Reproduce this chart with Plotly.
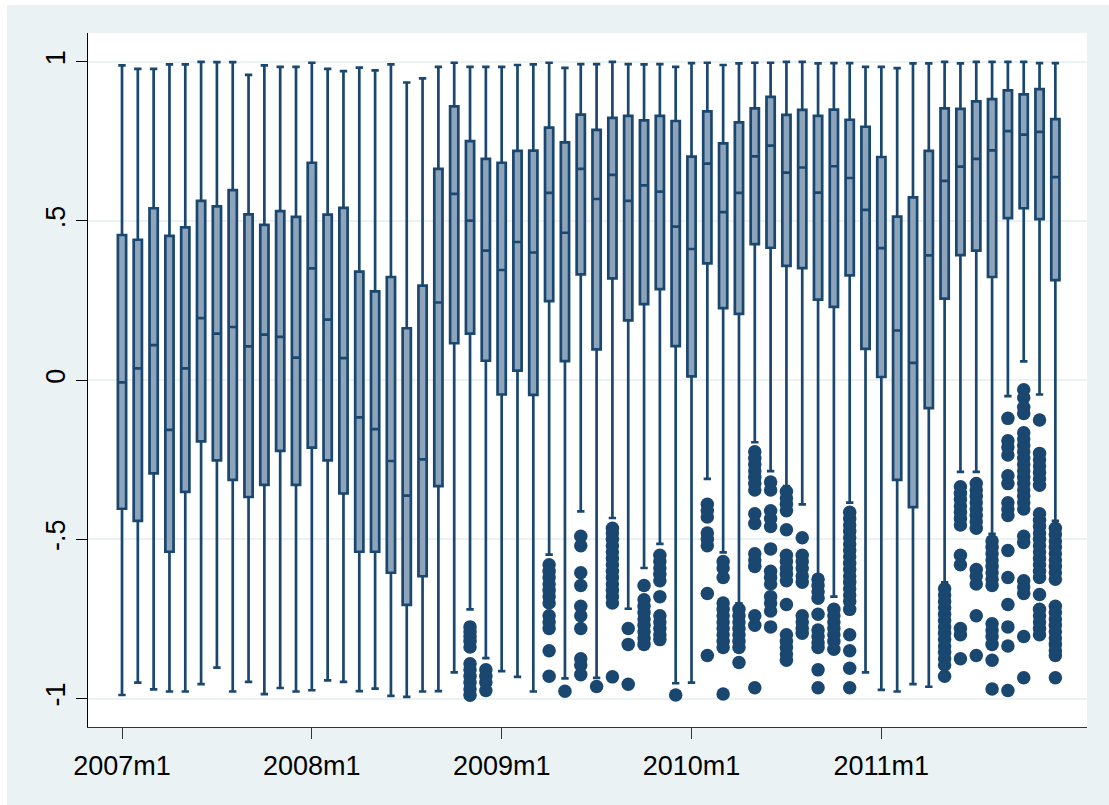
import plotly.graph_objects as go

# ---- data (month index 0 = 2007m1 ... 59 = 2011m12) ----
tick_months = [0, 12, 24, 36, 48]
tick_labels = ["2007m1", "2008m1", "2009m1", "2010m1", "2011m1"]

upper_whisker = [0.989, 0.978, 0.978, 0.992, 0.992, 1.0, 0.999, 0.999, 0.959, 0.989, 0.984, 0.984,
                 0.997, 0.978, 0.971, 0.982, 0.973, 0.992, 0.935, 0.948, 0.984, 0.997, 0.984, 0.984,
                 0.984, 0.990, 0.992, 0.997, 0.981, 0.993, 0.993, 1.0, 0.993, 0.992, 0.993, 0.984,
                 0.996, 0.997, 0.990, 0.995, 0.997, 0.997, 1.0, 1.0, 0.995, 0.996, 0.996, 0.984,
                 0.984, 0.980, 0.995, 0.995, 1.0, 0.995, 1.0, 1.0, 1.0, 1.0, 0.996, 0.996]
q3 = [0.456, 0.441, 0.540, 0.453, 0.480, 0.563, 0.546, 0.597, 0.521, 0.488, 0.531, 0.513,
      0.683, 0.520, 0.541, 0.341, 0.279, 0.324, 0.163, 0.297, 0.664, 0.860, 0.751, 0.695,
      0.683, 0.720, 0.721, 0.793, 0.747, 0.834, 0.786, 0.824, 0.830, 0.816, 0.830, 0.814,
      0.702, 0.844, 0.744, 0.810, 0.854, 0.890, 0.833, 0.849, 0.830, 0.850, 0.818, 0.796,
      0.701, 0.514, 0.574, 0.720, 0.854, 0.852, 0.876, 0.883, 0.910, 0.898, 0.914, 0.820]
median = [-0.007, 0.037, 0.110, -0.156, 0.037, 0.195, 0.146, 0.167, 0.106, 0.143, 0.136, 0.071,
          0.351, 0.190, 0.069, -0.117, -0.154, -0.254, -0.363, -0.249, 0.244, 0.585, 0.501, 0.407,
          0.346, 0.434, 0.401, 0.588, 0.463, 0.664, 0.569, 0.645, 0.563, 0.612, 0.592, 0.482,
          0.412, 0.680, 0.528, 0.588, 0.703, 0.737, 0.652, 0.668, 0.589, 0.672, 0.635, 0.535,
          0.415, 0.156, 0.054, 0.392, 0.626, 0.671, 0.695, 0.722, 0.782, 0.771, 0.780, 0.638]
q1 = [-0.404, -0.442, -0.293, -0.539, -0.351, -0.192, -0.252, -0.313, -0.367, -0.329, -0.222, -0.329,
      -0.212, -0.252, -0.356, -0.539, -0.539, -0.605, -0.706, -0.616, -0.333, 0.116, 0.146, 0.061,
      -0.045, 0.030, -0.046, 0.248, 0.060, 0.332, 0.097, 0.320, 0.188, 0.239, 0.286, 0.107,
      0.012, 0.367, 0.226, 0.208, 0.427, 0.416, 0.359, 0.352, 0.253, 0.230, 0.329, 0.098,
      0.010, -0.313, -0.399, -0.088, 0.256, 0.393, 0.407, 0.324, 0.509, 0.540, 0.506, 0.314]
lower_whisker = [-0.989, -0.950, -0.971, -0.978, -0.978, -0.955, -0.903, -0.978, -0.948, -0.986, -0.967, -0.978,
                 -0.974, -0.943, -0.948, -0.977, -0.969, -0.992, -0.995, -0.978, -0.977, -0.918, -0.720, -0.873,
                 -0.914, -0.932, -0.978, -0.548, -0.937, -0.412, -0.935, -0.433, -0.718, -0.590, -0.514, -0.952,
                 -0.950, -0.310, -0.541, -0.701, -0.195, -0.286, -0.333, -0.390, -0.619, -0.680, -0.385, -0.918,
                 -0.973, -0.978, -0.955, -0.963, -0.635, -0.288, -0.288, -0.483, -0.050, 0.059, -0.045, -0.442]

# outside values, one list per month that has them
out_2008m11 = [-0.775, -0.79, -0.805, -0.82, -0.838, -0.891, -0.91, -0.93, -0.95, -0.97, -0.99]
out_2008m12 = [-0.91, -0.93, -0.95, -0.975]
out_2009m4 = [-0.58, -0.60, -0.62, -0.64, -0.66, -0.68, -0.70, -0.74, -0.76, -0.78, -0.85, -0.93]
out_2009m5 = [-0.977]
out_2009m6 = [-0.49, -0.52, -0.605, -0.645, -0.71, -0.74, -0.78, -0.875, -0.895, -0.925]
out_2009m7 = [-0.962]
out_2009m8 = [-0.465, -0.48, -0.50, -0.52, -0.54, -0.56, -0.58, -0.60, -0.62, -0.64, -0.66, -0.68, -0.70, -0.932]
out_2009m9 = [-0.78, -0.83, -0.955]
out_2009m10 = [-0.645, -0.69, -0.71, -0.73, -0.75, -0.77, -0.79, -0.81, -0.83]
out_2009m11 = [-0.55, -0.57, -0.59, -0.61, -0.63, -0.68, -0.74, -0.76, -0.78, -0.80, -0.815]
out_2009m12 = [-0.989]
out_2010m2 = [-0.39, -0.41, -0.43, -0.48, -0.50, -0.52, -0.67, -0.865]
out_2010m3 = [-0.57, -0.59, -0.62, -0.70, -0.72, -0.74, -0.76, -0.78, -0.80, -0.82, -0.84, -0.986]
out_2010m4 = [-0.72, -0.74, -0.76, -0.78, -0.80, -0.82, -0.84, -0.887]
out_2010m5 = [-0.225, -0.245, -0.265, -0.285, -0.305, -0.325, -0.345, -0.42, -0.45, -0.545, -0.565,
              -0.585, -0.74, -0.77, -0.966]
out_2010m6 = [-0.32, -0.345, -0.41, -0.435, -0.46, -0.53, -0.60, -0.62, -0.64, -0.68, -0.70, -0.725, -0.775]
out_2010m7 = [-0.35, -0.37, -0.39, -0.41, -0.47, -0.55, -0.57, -0.59, -0.61, -0.63, -0.705, -0.80, -0.82,
              -0.84, -0.86, -0.88]
out_2010m8 = [-0.495, -0.55, -0.57, -0.59, -0.615, -0.635, -0.74, -0.76, -0.78, -0.795]
out_2010m9 = [-0.625, -0.645, -0.665, -0.685, -0.735, -0.785, -0.805, -0.825, -0.84, -0.91, -0.966]
out_2010m10 = [-0.72, -0.74, -0.76, -0.78, -0.80, -0.82, -0.845]
out_2010m11 = [-0.415, -0.435, -0.455, -0.475, -0.495, -0.515, -0.535, -0.555, -0.575, -0.595, -0.615,
               -0.635, -0.655, -0.675, -0.695, -0.72, -0.80, -0.85, -0.905, -0.966]
out_2011m5 = [-0.655, -0.675, -0.695, -0.715, -0.735, -0.755, -0.775, -0.795, -0.815, -0.835, -0.855,
              -0.875, -0.895, -0.93]
out_2011m6 = [-0.335, -0.355, -0.375, -0.395, -0.415, -0.435, -0.455, -0.55, -0.58, -0.78, -0.80, -0.875]
out_2011m7 = [-0.325, -0.345, -0.365, -0.385, -0.405, -0.425, -0.445, -0.465, -0.595, -0.615, -0.64,
              -0.74, -0.865]
out_2011m8 = [-0.505, -0.525, -0.545, -0.565, -0.585, -0.605, -0.625, -0.645, -0.765, -0.785, -0.805,
              -0.83, -0.88, -0.97]
out_2011m9 = [-0.12, -0.19, -0.21, -0.235, -0.30, -0.325, -0.385, -0.405, -0.425, -0.535, -0.62, -0.705,
              -0.775, -0.835, -0.975]
out_2011m10 = [-0.03, -0.055, -0.085, -0.105, -0.165, -0.185, -0.205, -0.225, -0.245, -0.265, -0.285,
               -0.305, -0.325, -0.345, -0.365, -0.385, -0.405, -0.49, -0.51, -0.63, -0.65, -0.67,
               -0.805, -0.935]
out_2011m11 = [-0.125, -0.23, -0.25, -0.27, -0.29, -0.31, -0.33, -0.42, -0.44, -0.46, -0.48, -0.50, -0.52,
               -0.54, -0.56, -0.58, -0.60, -0.62, -0.673, -0.72, -0.74, -0.76, -0.78, -0.80]
out_2011m12 = [-0.465, -0.485, -0.505, -0.525, -0.545, -0.565, -0.585, -0.605, -0.625, -0.71, -0.73,
               -0.75, -0.77, -0.79, -0.81, -0.83, -0.85, -0.865, -0.935]

outlier_months = [22, 23, 27, 28, 29, 30, 31, 32, 33, 34, 35, 37, 38, 39, 40, 41, 42, 43, 44, 45, 46,
                  52, 53, 54, 55, 56, 57, 58, 59]
outlier_lists = [out_2008m11, out_2008m12, out_2009m4, out_2009m5, out_2009m6, out_2009m7, out_2009m8,
                 out_2009m9, out_2009m10, out_2009m11, out_2009m12, out_2010m2, out_2010m3, out_2010m4,
                 out_2010m5, out_2010m6, out_2010m7, out_2010m8, out_2010m9, out_2010m10, out_2010m11,
                 out_2011m5, out_2011m6, out_2011m7, out_2011m8, out_2011m9, out_2011m10, out_2011m11,
                 out_2011m12]

# ---- figure ----
NAVY = "#1a476f"
FILL = "#8ea4ba"
BG = "#eaf2f3"

months = list(range(len(q3)))
ox, oy = [], []
for m, vals in zip(outlier_months, outlier_lists):
    ox += [m] * len(vals)
    oy += vals

fig = go.Figure()
fig.add_trace(go.Box(
    x=months, q1=q1, median=median, q3=q3,
    lowerfence=lower_whisker, upperfence=upper_whisker,
    boxpoints=False, width=0.52, whiskerwidth=0.9,
    fillcolor=FILL, line=dict(color=NAVY, width=2.7),
    showlegend=False, hoverinfo="skip",
))
fig.add_trace(go.Scatter(
    x=ox, y=oy, mode="markers",
    marker=dict(size=13.5, color=NAVY, line=dict(width=0)),
    showlegend=False, hoverinfo="skip",
))

L, R, T, B = 88, 22, 33, 78
W, H = 1109, 805
pw, ph = W - L - R, H - T - B

fig.add_shape(type="rect", xref="paper", yref="paper", layer="below",
              x0=(7 - L) / pw, x1=1.1, y0=-0.2, y1=1 + (T - 5) / ph,
              fillcolor=BG, line=dict(width=0))
fig.add_shape(type="rect", xref="paper", yref="paper", layer="below",
              x0=0, x1=1, y0=0, y1=1, fillcolor="white", line=dict(width=0))

font = dict(family="Liberation Sans, Arial, Helvetica, sans-serif", size=27, color="black")
fig.update_layout(
    width=W, height=H,
    margin=dict(l=L, r=R, t=T, b=B, pad=0, autoexpand=False),
    paper_bgcolor="white", plot_bgcolor="rgba(0,0,0,0)",
    font=font,
    xaxis=dict(range=[-2.149, 61.0], tickmode="array", tickvals=tick_months, ticktext=tick_labels,
               automargin=False, ticklabelstandoff=3,
               showgrid=False, zeroline=False, showline=True, linecolor="#333333", linewidth=1.3,
               ticks="outside", ticklen=11, tickwidth=1.3, tickcolor="#333333", tickfont=font),
    yaxis=dict(range=[-1.0895, 1.0905], tickmode="array", tickvals=[-1, -0.5, 0, 0.5, 1],
               ticktext=["-1", "-.5", "0", ".5", "1"], tickangle=-90, automargin=False,
               showgrid=True, gridcolor=BG, gridwidth=1.5, zeroline=False,
               showline=True, linecolor="black", linewidth=1.3,
               ticks="outside", ticklen=11, tickwidth=1.3, tickcolor="black", tickfont=font),
)

fig.write_html("out.html", config={"displayModeBar": False},
               post_script="document.body.style.margin='0px';document.body.style.overflow='hidden';")
